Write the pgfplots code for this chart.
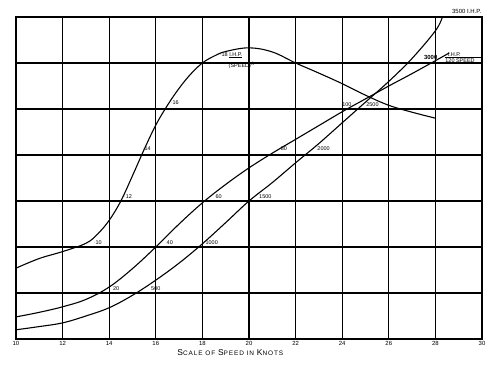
\documentclass[border=0pt]{standalone}
\usepackage{fontspec}
\setmainfont{Liberation Sans}
\newfontfamily\spaced[LetterSpace=14]{Liberation Sans}
\usepackage{pgfplots}
\pgfplotsset{compat=1.18}
\usetikzlibrary{calc}
\tikzset{lbl/.style={font=\fontsize{5.5}{6}\selectfont, inner sep=0.5pt},
  crv/.style={black, line width=1.1pt, smooth, tension=0.6, mark=none}}
\begin{document}
\begin{tikzpicture}
\begin{axis}[
  scale only axis, width=466bp, height=322bp,
  xmin=10, xmax=30, ymin=0, ymax=7,
  xtick={10,12,...,30}, ytick={0,1,...,7}, yticklabels={},
  grid=major, major grid style={black, line width=1.3pt},
  axis line style={black, line width=1.3pt},
  tick style={draw=none},
  /pgf/number format/assume math mode=true,
  tick label style={font=\fontsize{6}{7}\selectfont},
  xticklabel style={yshift=1bp},
  xlabel={{\spaced\fontsize{8.5}{9}\selectfont S\fontsize{6.5}{7}\selectfont CALE OF \fontsize{8.5}{9}\selectfont S\fontsize{6.5}{7}\selectfont PEED IN \fontsize{8.5}{9}\selectfont K\fontsize{6.5}{7}\selectfont NOTS}},
  xlabel style={at={(axis description cs:0.46,0)}, anchor=north, yshift=-7bp},
  clip=false,
]
% I.H.P./(Speed)^3 curve
\addplot[crv] coordinates {(10,1.54) (11,1.75) (12,1.9) (13,2.08) (13.5,2.28) (14,2.58) (14.5,3.0) (15,3.55) (15.5,4.12) (16,4.65) (16.5,5.08) (17,5.45) (17.5,5.76) (18,6.0) (18.5,6.15) (19,6.25) (20,6.33) (21,6.24) (22,6.0) (23,5.78) (24,5.55) (25,5.3) (26,5.08) (27,4.93) (28,4.8)};
% I.H.P./120 Speed curve
\addplot[crv] coordinates {(10,0.48) (11,0.58) (12,0.70) (13,0.86) (14,1.13) (15,1.53) (16,2.0) (17,2.5) (18,2.96) (19,3.36) (20,3.72) (21,4.04) (22,4.34) (23,4.64) (24,4.94) (25,5.22) (26,5.5) (27,5.77) (28,6.05) (28.6,6.22)};
% I.H.P. curve
\addplot[crv] coordinates {(10,0.2) (11,0.27) (12,0.35) (13,0.5) (14,0.68) (15,0.95) (16,1.28) (17,1.65) (18,2.07) (19,2.53) (20,3.0) (21,3.4) (22,3.83) (23,4.25) (24,4.7) (25,5.15) (26,5.6) (27,6.1) (28,6.7) (28.3,7.0)};

\node[lbl] at (axis cs:13.5,2.1) {$\cdot$10};
\node[lbl] at (axis cs:14.8,3.1) {$\cdot$12};
\node[lbl] at (axis cs:15.6,4.13) {$\cdot$14};
\node[lbl] at (axis cs:16.8,5.13) {$\cdot$16};
\node[lbl, anchor=west] at (axis cs:18.7,6.17) {$\cdot$18 \underline{I.H.P.}};
\node[lbl, anchor=west] at (axis cs:19.1,5.95) {(SPEED)$^3$};

\node[lbl] at (axis cs:14.3,1.1) {20};
\node[lbl] at (axis cs:16.6,2.1) {40};
\node[lbl] at (axis cs:18.7,3.1) {60};
\node[lbl] at (axis cs:21.5,4.13) {80};
\node[lbl] at (axis cs:24.2,5.1) {100};
\node[lbl, anchor=south west] at (axis cs:28.5,6.12) {I.H.P.};
\node[lbl, anchor=north west] at (axis cs:28.4,6.1) {120 SPEED};
\draw[line width=0.5pt] (axis cs:28.4,6.12) -- (axis cs:30,6.12);

\node[lbl] at (axis cs:16.0,1.1) {500};
\node[lbl] at (axis cs:18.4,2.1) {1000};
\node[lbl] at (axis cs:20.7,3.1) {1500};
\node[lbl] at (axis cs:23.2,4.13) {2000};
\node[lbl] at (axis cs:25.3,5.1) {2500};
\node[lbl, font=\fontsize{6}{7}\selectfont\bfseries] at (axis cs:27.8,6.13) {3000};
\node[lbl, anchor=south east, font=\fontsize{6}{7}\selectfont] at (axis cs:30,7.05) {3500 I.H.P.};
\end{axis}
\path ($(current axis.south west)+(-16bp,-27bp)$) rectangle ($(current axis.north east)+(18bp,17bp)$);
\end{tikzpicture}
\end{document}
